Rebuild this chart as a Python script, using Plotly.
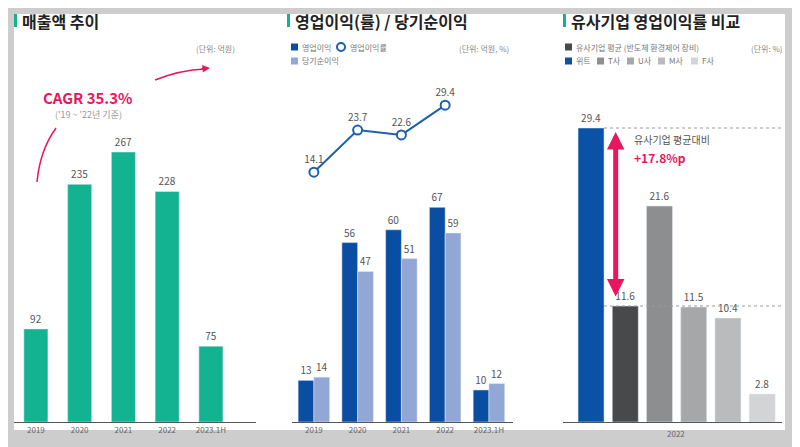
import plotly.graph_objects as go

W, H = 792, 439
OFF = 8  # page margin around the plot div

# 매출액 추이
years1 = ["2019", "2020", "2021", "2022", "2023.1H"]
sales = [92, 235, 267, 228, 75]

# 영업이익(률) / 당기순이익
years2 = ["2019", "2020", "2021", "2022", "2023.1H"]
op_profit = [13, 56, 60, 67, 10]
net_profit = [14, 47, 51, 59, 12]
op_margin_years = ["2019", "2020", "2021", "2022"]
op_margin = [14.1, 23.7, 22.6, 29.4]

# 유사기업 영업이익률 비교
peers = ["위트", "평균", "T사", "U사", "M사", "F사"]
peer_margin = [29.4, 11.6, 21.6, 11.5, 10.4, 2.8]
peer_colors = ["#0a52a5", "#47494b", "#8d8e90", "#a6a7a9", "#babbbd", "#d3d4d6"]

GREEN = "#13b392"
DARK = "#0a4ea2"
LIGHT = "#93a7d6"
PINK = "#e8175d"


def px(x):
    return (x - OFF) / W


def py_(y):
    return 1 - (y - OFF) / H


fig = go.Figure()

fig.add_trace(go.Bar(x=years1, y=sales, marker_color=GREEN, width=0.55,
                     text=sales, textposition="outside",
                     textfont=dict(size=10, color="#555"), xaxis="x", yaxis="y",
                     cliponaxis=False))

fig.add_trace(go.Bar(x=years2, y=op_profit, marker_color=DARK, width=0.36, offset=-0.36,
                     text=op_profit, textposition="outside",
                     textfont=dict(size=10, color="#555"), xaxis="x2", yaxis="y2",
                     cliponaxis=False))
fig.add_trace(go.Bar(x=years2, y=net_profit, marker_color=LIGHT, width=0.36, offset=0,
                     text=net_profit, textposition="outside",
                     textfont=dict(size=10, color="#555"), xaxis="x2", yaxis="y2",
                     cliponaxis=False))
fig.add_trace(go.Scatter(x=op_margin_years, y=op_margin, mode="lines+markers+text",
                         line=dict(color="#1f5fae", width=2),
                         marker=dict(size=9, color="white", line=dict(color="#1f5fae", width=2)),
                         text=op_margin, textposition="top center",
                         textfont=dict(size=10, color="#555"),
                         xaxis="x4", yaxis="y4", cliponaxis=False))

fig.add_trace(go.Bar(x=peers, y=peer_margin, marker_color=peer_colors, width=0.76,
                     text=peer_margin, textposition="outside",
                     textfont=dict(size=10, color="#555"), xaxis="x3", yaxis="y3",
                     cliponaxis=False))

ydom = [py_(422), py_(60)]
ax_common = dict(showgrid=False, zeroline=False, showline=True, linecolor="#555",
                 ticks="", tickfont=dict(size=8, color="#666"), fixedrange=True)
fig.update_layout(
    width=W, height=H, margin=dict(l=0, r=0, t=0, b=0),
    paper_bgcolor="#cdcdcd", plot_bgcolor="rgba(0,0,0,0)",
    showlegend=False, barmode="overlay",
    font=dict(family="Noto Sans CJK KR"),
    xaxis=dict(domain=[px(14), px(256)], range=[-0.5, 5.03], anchor="y", **ax_common),
    yaxis=dict(domain=ydom, range=[0, 358], visible=False, anchor="x"),
    xaxis2=dict(domain=[px(292), px(513)], range=[-0.5, 4.55], anchor="y2", **ax_common),
    yaxis2=dict(domain=ydom, range=[0, 113], visible=False, anchor="x2"),
    xaxis4=dict(domain=[px(292), px(513)], range=[-0.5, 4.55], overlaying="x2",
                visible=False, anchor="y4", categoryorder="array", categoryarray=years2),
    yaxis4=dict(domain=ydom, range=[-42.9, 39.7], visible=False, anchor="x4", overlaying="y2"),
    xaxis3=dict(domain=[px(563), px(782)], range=[-0.82, 5.58], anchor="y3",
                showticklabels=False, **{k: v for k, v in ax_common.items() if k != "tickfont"}),
    yaxis3=dict(domain=ydom, range=[0, 36.2], visible=False, anchor="x3"),
)

shapes = [
    dict(type="rect", xref="paper", yref="paper", x0=px(14), x1=px(785), y0=py_(430), y1=py_(14),
         fillcolor="white", line_width=0, layer="below"),
    dict(type="line", xref="x3", yref="y3", x0=0.38, x1=5.58, y0=29.4, y1=29.4,
         line=dict(color="#999", width=1, dash="dot")),
    dict(type="line", xref="x3", yref="y3", x0=0.38, x1=5.58, y0=11.6, y1=11.6,
         line=dict(color="#999", width=1, dash="dot")),
]
# title markers
for x0 in (14, 287, 563):
    shapes.append(dict(type="rect", xref="paper", yref="paper", x0=px(x0), x1=px(x0 + 3),
                       y0=py_(27), y1=py_(14), fillcolor=GREEN, line_width=0))


def sq(x, y, color, s=7):
    shapes.append(dict(type="rect", xref="paper", yref="paper", x0=px(x), x1=px(x + s),
                       y0=py_(y + s / 2), y1=py_(y - s / 2), fillcolor=color, line_width=0))


sq(291, 47, DARK)
sq(291, 61, LIGHT)
shapes.append(dict(type="circle", xref="paper", yref="paper", x0=px(337), x1=px(345),
                   y0=py_(51), y1=py_(43), line=dict(color="#1f5fae", width=2), fillcolor="white"))
sq(565, 47, "#47494b")
for x, c in zip((565, 597, 627, 658, 691), ["#0a52a5", "#8d8e90", "#a6a7a9", "#babbbd", "#d3d4d6"]):
    sq(x, 61, c)


# CAGR curved arrows
def path(pts):
    d = "M {} {}".format(px(pts[0][0]), py_(pts[0][1]))
    d += " Q {} {} {} {}".format(px(pts[1][0]), py_(pts[1][1]), px(pts[2][0]), py_(pts[2][1]))
    return d


shapes.append(dict(type="path", xref="paper", yref="paper", path=path([(37, 182), (40, 150), (56, 128)]),
                   line=dict(color=PINK, width=1.5)))
shapes.append(dict(type="path", xref="paper", yref="paper", path=path([(155, 80), (180, 70), (205, 69)]),
                   line=dict(color=PINK, width=1.5)))
fig.update_layout(shapes=shapes)

ann = []


def txt(x, y, s, size=9, color="#777", bold=False, anchor="left"):
    ann.append(dict(xref="paper", yref="paper", x=px(x), y=py_(y), text="<b>%s</b>" % s if bold else s,
                    showarrow=False, xanchor=anchor, yanchor="middle",
                    font=dict(size=size, color=color)))


txt(20, 21, "매출액 추이", 16, "#222", True)
txt(293, 21, "영업이익(률) / 당기순이익", 16, "#222", True)
txt(569, 21, "유사기업 영업이익률 비교", 16, "#222", True)
txt(237, 48, "(단위: 억원)", 8, "#888", anchor="right")
txt(511, 48, "(단위: 억원, %)", 8, "#888", anchor="right")
txt(785, 48, "(단위: %)", 8, "#888", anchor="right")
txt(88, 97, "CAGR 35.3%", 15, PINK, True, "center")
txt(88, 115, "('19 ~ '22년 기준)", 9, "#999", anchor="center")
txt(300, 47, "영업이익", 8)
txt(348, 47, "영업이익률", 8)
txt(300, 61, "당기순이익", 8)
txt(574, 47, "유사기업 평균 (반도체 환경제어 장비)", 8)
for x, s in zip((574, 606, 636, 667, 700), ["위트", "T사", "U사", "M사", "F사"]):
    txt(x, 61, s, 8)
txt(632, 140, "유사기업 평균대비", 10, "#555")
txt(632, 157, "+17.8%p", 12, PINK, True)
txt(676, 433, "2022", 8, "#666", anchor="center")

# arrowheads
ann.append(dict(xref="paper", yref="paper", x=px(210), y=py_(68), ax=-10, ay=1,
                showarrow=True, arrowhead=2, arrowsize=1,
                arrowwidth=1.5, arrowcolor=PINK, text=""))
ann.append(dict(xref="x3", yref="y3", x=0.72, y=29.0, ax=0.72, ay=12.4, axref="x3", ayref="y3",
                showarrow=True, arrowhead=2, arrowside="end+start", arrowsize=0.7,
                arrowwidth=5, arrowcolor=PINK, text=""))
fig.update_layout(annotations=ann)

fig.write_html("out.html")
